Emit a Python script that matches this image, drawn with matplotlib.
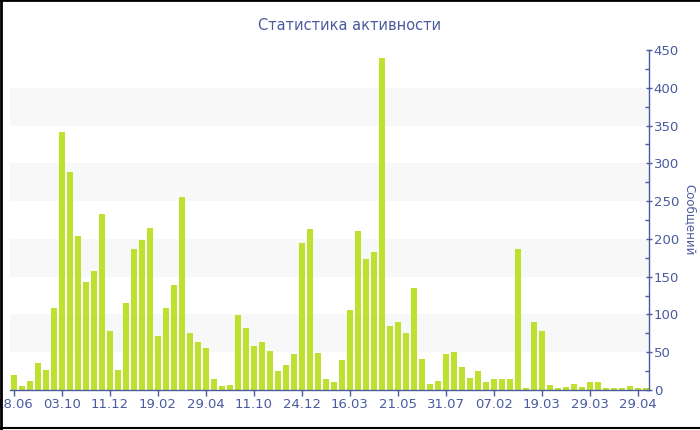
import numpy as np
import matplotlib.pyplot as plt
from matplotlib.ticker import MultipleLocator

# messages per period
values = [20, 5, 12, 36, 27, 108, 342, 289, 204, 143,
          157, 233, 78, 26, 115, 187, 198, 214, 71, 108,
          139, 256, 76, 64, 56, 14, 5, 6, 99, 82,
          58, 63, 51, 25, 33, 48, 194, 213, 49, 14,
          11, 40, 106, 210, 173, 182, 439, 85, 90, 76,
          135, 41, 8, 12, 47, 50, 31, 16, 25, 10,
          15, 14, 15, 187, 3, 90, 78, 6, 3, 4,
          8, 4, 11, 10, 3, 3, 3, 5, 3, 3]
tick_labels = ['18.06', '03.10', '11.12', '19.02', '29.04', '11.10', '24.12',
               '16.03', '21.05', '31.07', '07.02', '19.03', '29.03', '29.04']
tick_step = 6

blue = '#4a5a9e'
bar_color = '#bde12e'

fig = plt.figure(figsize=(7, 4.3), dpi=100)
ax = fig.add_axes([10 / 700, 40 / 430, 639 / 700, 340 / 430])

x = np.arange(len(values))
ax.set_xlim(-0.5, len(values) - 0.62)
ax.set_ylim(0, 450)

# alternating light bands
for lo in range(50, 450, 100):
    ax.axhspan(lo, lo + 50, color='#f8f8f8', zorder=0, lw=0)

ax.bar(x, values, width=0.75, color=bar_color, zorder=2)

ax.set_xticks(x[::tick_step])
ax.set_xticklabels(tick_labels)
ax.yaxis.tick_right()
ax.yaxis.set_label_position('right')
ax.yaxis.set_major_locator(MultipleLocator(50))
ax.yaxis.set_minor_locator(MultipleLocator(25))
ax.tick_params(axis='x', colors=blue, labelsize=9.5, length=4, width=1, pad=2)
ax.tick_params(axis='y', which='major', colors=blue, labelsize=9.5, length=5,
               width=1, direction='inout', pad=1)
ax.tick_params(axis='y', which='minor', colors=blue, length=3, width=1, direction='in')
ax.set_ylabel('Сообщений', color=blue, fontsize=8.5, rotation=270, labelpad=12)

for s in ['top', 'left']:
    ax.spines[s].set_visible(False)
for s in ['bottom', 'right']:
    ax.spines[s].set_color(blue)
    ax.spines[s].set_linewidth(1)

fig.text(0.5, 1 - 25 / 430, 'Статистика активности', ha='center', va='center',
         color=blue, fontsize=10.5)

# thin black frame around the figure
fig.add_artist(plt.Line2D([0.001, 0.001], [0, 1], color='black', lw=2, transform=fig.transFigure))
fig.add_artist(plt.Line2D([0, 1], [0.999, 0.999], color='black', lw=2, transform=fig.transFigure))
fig.add_artist(plt.Line2D([0, 1], [2 / 430, 2 / 430], color='black', lw=1.5, transform=fig.transFigure))

fig.savefig('out.png', dpi=100)
